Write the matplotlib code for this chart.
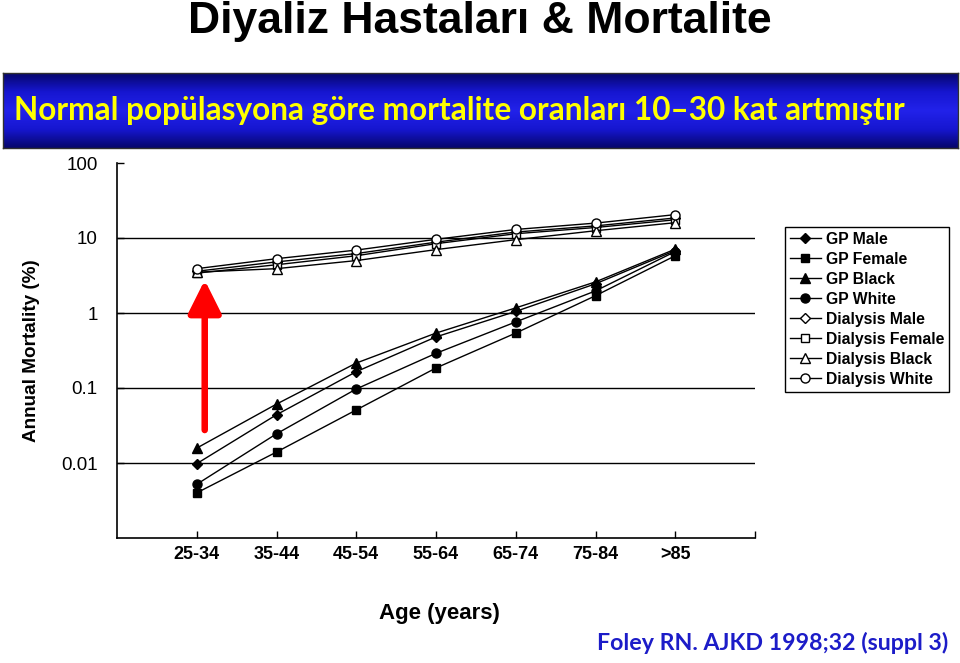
import numpy as np
import matplotlib
matplotlib.use("Agg")
import matplotlib.pyplot as plt
from matplotlib.colors import LinearSegmentedColormap

# age groups and annual mortality (%)
ages = ["25-34", "35-44", "45-54", "55-64", "65-74", "75-84", ">85"]

gp_male = [0.0098, 0.044, 0.165, 0.48, 1.05, 2.45, 6.8]
gp_female = [0.0040, 0.014, 0.051, 0.185, 0.54, 1.70, 5.8]
gp_black = [0.0158, 0.061, 0.215, 0.54, 1.17, 2.60, 7.1]
gp_white = [0.0052, 0.0245, 0.097, 0.29, 0.76, 1.97, 6.6]

dial_male = [3.6, 4.8, 6.2, 8.8, 12.0, 14.5, 18.5]
dial_female = [3.4, 4.4, 5.8, 8.4, 11.4, 13.8, 17.5]
dial_black = [3.5, 3.9, 5.0, 7.0, 9.5, 12.5, 16.0]
dial_white = [3.9, 5.3, 6.9, 9.6, 13.0, 15.8, 20.5]

ytick_vals = [0.01, 0.1, 1, 10, 100]
ytick_labels = ["0.01", "0.1", "1", "10", "100"]

series = [
    ("GP Male", gp_male, "D", "black", 5),
    ("GP Female", gp_female, "s", "black", 6),
    ("GP Black", gp_black, "^", "black", 6.5),
    ("GP White", gp_white, "o", "black", 6.5),
    ("Dialysis Male", dial_male, "D", "white", 5),
    ("Dialysis Female", dial_female, "s", "white", 6),
    ("Dialysis Black", dial_black, "^", "white", 6.5),
    ("Dialysis White", dial_white, "o", "white", 6.5),
]

W, H = 960, 663
ARIAL = ["Liberation Sans", "DejaVu Sans"]
fig = plt.figure(figsize=(9.6, 6.63), dpi=100)
fig.patch.set_facecolor("white")

# slide title
fig.text(0.5, 1 - 22 / H, "Diyaliz Hastaları & Mortalite", ha="center", va="center",
         fontsize=32, fontweight="bold", color="black",
         family=["Liberation Sans Narrow", "Liberation Sans", "DejaVu Sans"])

# blue gradient banner
bax = fig.add_axes([3 / W, 1 - 148 / H, 955 / W, 75 / H])
cmap = LinearSegmentedColormap.from_list("banner", ["#06066a", "#1616d0", "#2222ea", "#1616d0", "#06066a"])
grad = np.linspace(0, 1, 256).reshape(-1, 1)
bax.imshow(grad, aspect="auto", cmap=cmap, extent=[0, 1, 0, 1])
bax.set_xticks([])
bax.set_yticks([])
for s in bax.spines.values():
    s.set_color("#303030")
    s.set_linewidth(1)
bax.text(0.011, 0.5, "Normal popülasyona göre mortalite oranları 10–30 kat artmıştır",
         ha="left", va="center", fontsize=22.8, fontweight="bold", color="#ffff00",
         family=["Lato", "DejaVu Sans"], transform=bax.transAxes)

# main chart
ax = fig.add_axes([117 / W, 1 - 538 / H, 638 / W, 375 / H])
x = np.arange(len(ages))
for label, vals, mk, fc, ms in series:
    ax.plot(x, vals, color="black", lw=1.0, marker=mk, markersize=ms,
            markerfacecolor=fc, markeredgecolor="black", markeredgewidth=1.0,
            label=label, zorder=3)

ax.set_yscale("log")
ax.set_ylim(0.001, 100)
ax.set_xlim(-1, 7)
ax.set_yticks(ytick_vals)
ax.set_yticklabels(ytick_labels)
ax.yaxis.set_minor_locator(matplotlib.ticker.NullLocator())
ax.set_xticks(x)
ax.set_xticklabels(ages)
ax.set_xticks([7], minor=True)
for v in ytick_vals[:-1]:
    ax.axhline(v, color="black", lw=1.0, zorder=1)

for side in ("top", "right"):
    ax.spines[side].set_visible(False)
for side in ("left", "bottom"):
    ax.spines[side].set_linewidth(1.2)
ax.tick_params(axis="both", which="both", direction="in", length=5, width=1.0)
ax.tick_params(axis="x", pad=6)
ax.tick_params(axis="y", pad=14)
for t in ax.get_xticklabels():
    t.set_family(ARIAL)
    t.set_fontweight("bold")
    t.set_fontsize(13)
for t in ax.get_yticklabels():
    t.set_family(ARIAL)
    t.set_fontsize(13.5)

fig.text(31 / W, 1 - 351 / H, "Annual Mortality (%)", rotation=90, ha="center", va="center",
         fontsize=13.6, fontweight="bold", family=ARIAL)
fig.text(439 / W, 1 - 614 / H, "Age (years)", ha="center", va="center",
         fontsize=16, fontweight="bold", family=ARIAL)

handles, labels = ax.get_legend_handles_labels()
leg = fig.legend(handles, labels, loc="upper left", bbox_to_anchor=(785 / W, 1 - 227 / H),
                 borderaxespad=0, frameon=True, fancybox=False, edgecolor="black", framealpha=1,
                 handlelength=2.0, handletextpad=0.3, labelspacing=0.32, borderpad=0.3,
                 prop={"family": ARIAL, "size": 11.3, "weight": "bold"})
leg.get_frame().set_linewidth(1.0)

# red arrow pointing from GP to dialysis group
ax.annotate("", xy=(0.1, 2.75), xytext=(0.1, 0.0275),
            arrowprops=dict(arrowstyle="-|>,head_width=1.0,head_length=2.0", color="#ff0000",
                            lw=4.7, shrinkA=0, shrinkB=0), zorder=4)

fig.text(948 / W, 1 - 643 / H, "Foley RN. AJKD 1998;32 (suppl 3)", ha="right", va="center",
         fontsize=16.7, fontweight="bold", color="#1c1cc8", family=["Lato", "DejaVu Sans"])

fig.savefig("out.png", dpi=100)
